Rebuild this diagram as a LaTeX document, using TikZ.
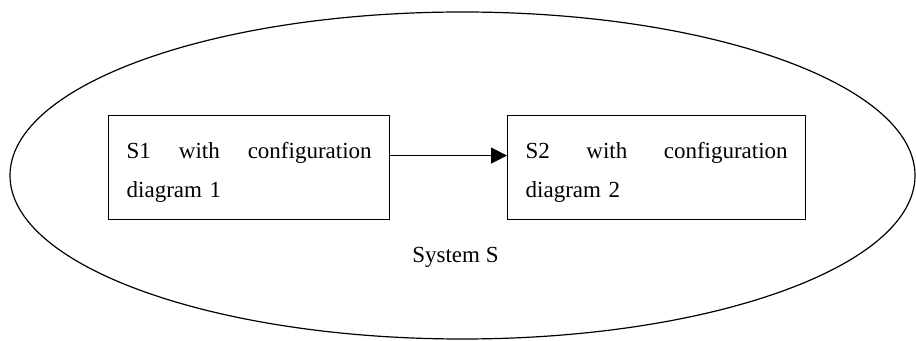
\documentclass[tikz,border=0pt]{standalone}
\usepackage{fontspec}
\setmainfont{Liberation Serif}
\usetikzlibrary{arrows.meta,calc}
% struts fixing the first baseline and the bottom margin of a box
\newcommand{\topgap}{\rule{0pt}{21.5pt}}
\newcommand{\botgap}{\rule[-11pt]{0pt}{11pt}}
\begin{document}
\begin{tikzpicture}[x=0.5pt,y=-0.5pt,
  cfgbox/.style={draw, line width=0.7pt, inner xsep=9pt,
    inner ysep=0pt, align=left, anchor=north west,
    font=\fontsize{11.5}{19.5}\selectfont},
  flow/.style={line width=0.6pt, -{Triangle[length=8pt,width=8pt]}}]
\useasboundingbox (0,0) rectangle (916,341);
% enclosing system boundary
\draw[line width=0.6pt] (462.5,175.5) ellipse [x radius=226.25pt, y radius=81.75pt];
% the two configurations
\node[cfgbox, text width=122.5pt] (s1) at (108,115)
  {\leavevmode\topgap\hbox to\linewidth{S1\hfill with\hfill configuration}\\diagram 1\botgap};
\node[cfgbox, text width=131pt] (s2) at (507,115)
  {\leavevmode\topgap\hbox to\linewidth{S2\hfill with\hfill configuration}\\diagram 2\botgap};
% transition between them
\draw[flow] ($(s1.north east)!0.385!(s1.south east)$) -- ($(s2.north west)!0.385!(s2.south west)$);
% system label
\node[font=\fontsize{11.5}{14}\selectfont, anchor=base] (sys) at (455.5,263) {System S};
\end{tikzpicture}
\end{document}
